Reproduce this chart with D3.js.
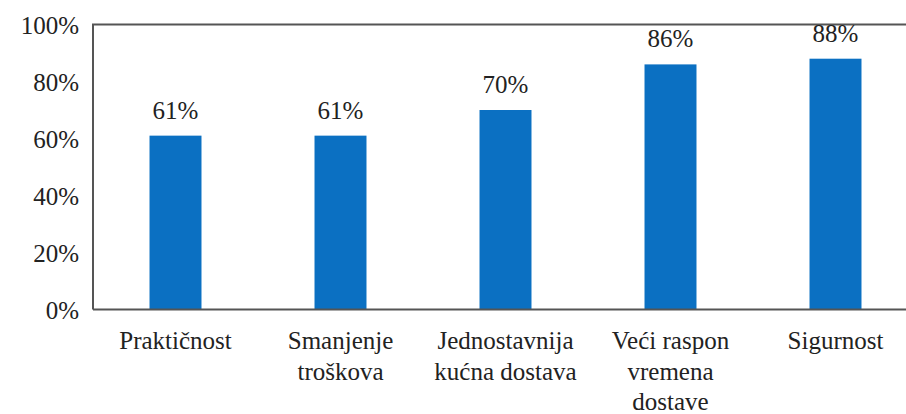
<!DOCTYPE html>
<html><head><meta charset="utf-8"><script src="https://cdn.jsdelivr.net/npm/d3@7"></script></head>
<body style="margin:0">
<div id="chart"></div>
<script>
// podaci
const categories = [
    ['Praktičnost'],
    ['Smanjenje', 'troškova'],
    ['Jednostavnija', 'kućna dostava'],
    ['Veći raspon', 'vremena', 'dostave'],
    ['Sigurnost']
];
const values = [61, 61, 70, 86, 88];
const yTicks = [0, 20, 40, 60, 80, 100];

const width = 906, height = 414;
const plotLeft = 93, plotRight = 918, plotTop = 24.5, plotBottom = 309.5;
const fontName = 'Times New Roman';

const svg = d3.select('#chart').append('svg')
    .attr('width', width)
    .attr('height', height)
    .attr('font-family', fontName)
    .style('display', 'block');

const x = d3.scaleBand()
    .domain(d3.range(categories.length))
    .range([plotLeft, plotRight])
    .paddingInner(0.685)
    .paddingOuter(0.3425);

const y = d3.scaleLinear().domain([0, 100]).range([plotBottom, plotTop]);

// y os
const yAxis = svg.append('g')
    .attr('transform', `translate(${plotLeft},0)`)
    .call(d3.axisLeft(y).tickValues(yTicks).tickSize(0).tickPadding(14).tickFormat(d => d + '%'));
yAxis.attr('font-family', fontName).attr('font-size', 25);
yAxis.select('.domain').remove();
yAxis.selectAll('text')
    .attr('fill', '#222')
    .attr('dy', '0.35em')
    .attr('font-family', fontName)
    .attr('font-size', 25);

// stupci
svg.selectAll('.bar')
    .data(values)
    .enter().append('rect')
    .attr('class', 'bar')
    .attr('x', (d, i) => x(i))
    .attr('y', d => y(d))
    .attr('width', x.bandwidth())
    .attr('height', d => y(0) - y(d))
    .attr('fill', '#0B70C2');

// okvir
svg.append('path')
    .attr('d', `M${plotLeft},${plotBottom}V${plotTop}H${width}`)
    .attr('fill', 'none')
    .attr('stroke', '#555')
    .attr('stroke-width', 2);
svg.append('line')
    .attr('x1', plotLeft).attr('x2', width)
    .attr('y1', plotBottom).attr('y2', plotBottom)
    .attr('stroke', '#555')
    .attr('stroke-width', 2);

// oznake vrijednosti
svg.selectAll('.val')
    .data(values)
    .enter().append('text')
    .attr('class', 'val')
    .attr('x', (d, i) => x(i) + x.bandwidth() / 2)
    .attr('y', d => y(d) - 17)
    .attr('text-anchor', 'middle')
    .attr('fill', '#222')
    .attr('font-family', fontName)
    .attr('font-size', 25)
    .text(d => d + '%');

// kategorije
categories.forEach((lines, i) => {
    lines.forEach((line, j) => {
        svg.append('text')
            .attr('class', 'cat')
            .attr('x', x(i) + x.bandwidth() / 2)
            .attr('y', 349 + j * 30.5)
            .attr('text-anchor', 'middle')
            .attr('fill', '#222')
            .attr('font-family', fontName)
            .attr('font-size', 25)
            .text(line);
    });
});
</script>
</body></html>
